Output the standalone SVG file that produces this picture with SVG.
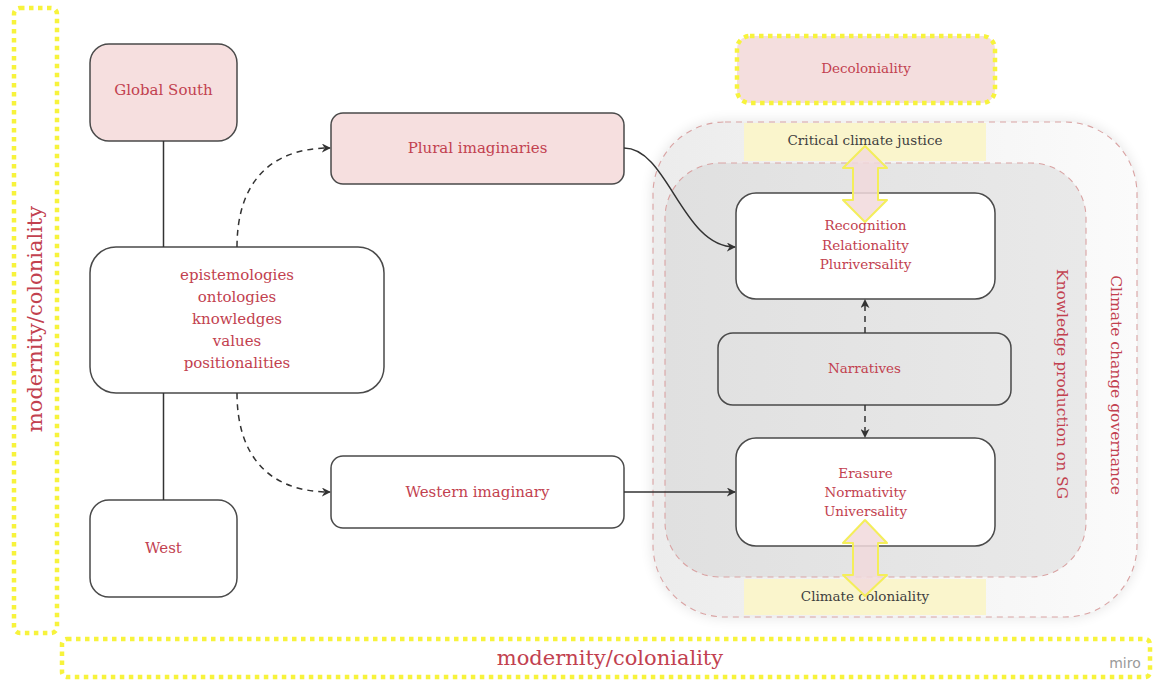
<svg xmlns="http://www.w3.org/2000/svg" width="1156" height="681" viewBox="0 0 1156 681">
<defs>
<style>
.box{stroke:#4a4a4a;stroke-width:1.5;}
.pink{fill:#f6dfdf;}
.white{fill:#ffffff;}
.t{font-family:"DejaVu Serif","Liberation Serif",serif;fill:#c2414f;text-anchor:middle;}
.t15{font-size:15px;}
.t13{font-size:13.5px;}
.dark{fill:#3f3f3f;}
.yd{fill:none;stroke:#f7f33c;stroke-width:4.5;stroke-dasharray:4.5 4.5;}
.reg{stroke:#d9a3a3;stroke-width:1.1;stroke-dasharray:6 5;}
.band{fill:#faf5cc;}
.conn{fill:none;stroke:#333;stroke-width:1.5;}
.dash{stroke-dasharray:6 5;}
.darr{fill:#f1d9dc;fill-opacity:0.85;stroke:#f4ee5a;stroke-width:2;stroke-linejoin:round;}
</style>
<marker id="ah" viewBox="0 0 10 10" refX="9" refY="5" markerWidth="9" markerHeight="9" markerUnits="userSpaceOnUse" orient="auto">
<path d="M0,0 L10,5 L0,10 L3,5 z" fill="#333"/>
</marker>
<linearGradient id="og" x1="0" y1="0" x2="1" y2="0">
<stop offset="0" stop-color="#ececec"/>
<stop offset="1" stop-color="#fbfbfb"/>
</linearGradient>
<linearGradient id="ig" x1="0" y1="0" x2="1" y2="0">
<stop offset="0" stop-color="#e0e0e0"/>
<stop offset="1" stop-color="#e9e9e9"/>
</linearGradient>
<filter id="sh" x="-10%" y="-10%" width="120%" height="120%">
<feGaussianBlur in="SourceAlpha" stdDeviation="7"/>
<feComponentTransfer><feFuncA type="linear" slope="0.12"/></feComponentTransfer>
<feMerge><feMergeNode/><feMergeNode in="SourceGraphic"/></feMerge>
</filter>
</defs>
<rect width="1156" height="681" fill="#ffffff"/>

<g id="frame-left">
<rect class="yd" x="14" y="8" width="43" height="625" rx="6"/>
<text class="t" font-size="21" transform="translate(42,319) rotate(-90)">modernity/coloniality</text>
</g>
<g id="frame-bottom">
<rect class="yd" x="62" y="639" width="1088" height="38" rx="5"/>
<text class="t" font-size="21" x="610" y="665">modernity/coloniality</text>
<text x="1125" y="668" font-family="'DejaVu Sans','Liberation Sans',sans-serif" font-size="14" fill="#9a9a9a" text-anchor="middle">miro</text>
</g>

<g id="climate-change-governance">
<rect x="653" y="122" width="484" height="495" rx="72" fill="url(#og)" filter="url(#sh)"/>
<rect class="reg" x="653" y="122" width="484" height="495" rx="72" fill="none"/>
<text class="t" font-size="15.5" transform="translate(1111,385) rotate(90)">Climate change governance</text>
</g>
<g id="critical-climate-justice">
<rect class="band" x="744" y="123" width="242" height="38"/>
<text class="t t13 dark" x="865" y="144.5">Critical climate justice</text>
</g>
<g id="climate-coloniality">
<rect class="band" x="744" y="579" width="242" height="36"/>
<text class="t t13 dark" x="865" y="601">Climate coloniality</text>
</g>
<g id="knowledge-production">
<rect class="reg" x="665" y="163" width="421" height="414" rx="55" fill="url(#ig)"/>
<text class="t" font-size="15.5" transform="translate(1057,384) rotate(90)">Knowledge production on SG</text>
</g>

<g id="global-south">
<rect class="box pink" x="90" y="44" width="147" height="97" rx="19"/>
<text class="t t15" x="163.5" y="95">Global South</text>
</g>
<g id="epistemologies">
<rect class="box white" x="90" y="247" width="294" height="146" rx="26"/>
<text class="t t15" x="237" y="280">epistemologies</text>
<text class="t t15" x="237" y="302">ontologies</text>
<text class="t t15" x="237" y="324">knowledges</text>
<text class="t t15" x="237" y="346">values</text>
<text class="t t15" x="237" y="368">positionalities</text>
</g>
<g id="west">
<rect class="box white" x="90" y="500" width="147" height="97" rx="19"/>
<text class="t t15" x="163.5" y="553">West</text>
</g>
<g id="plural-imaginaries">
<rect class="box pink" x="331" y="113" width="293" height="71" rx="12"/>
<text class="t t15" x="477.5" y="153">Plural imaginaries</text>
</g>
<g id="western-imaginary">
<rect class="box white" x="331" y="456" width="293" height="72" rx="12"/>
<text class="t t15" x="477.5" y="497">Western imaginary</text>
</g>
<g id="decoloniality">
<rect x="737" y="36" width="258" height="67" rx="13" fill="#f4dede"/>
<rect class="yd" x="737" y="36" width="258" height="67" rx="13"/>
<text class="t t13" x="866" y="73">Decoloniality</text>
</g>
<g id="recognition">
<rect class="box white" x="736" y="193" width="259" height="106" rx="20"/>
<text class="t t13" x="865.5" y="230">Recognition</text>
<text class="t t13" x="865.5" y="249.5">Relationality</text>
<text class="t t13" x="865.5" y="268.5">Pluriversality</text>
</g>
<g id="narratives">
<rect class="box" fill="none" x="718" y="333" width="293" height="72" rx="15"/>
<text class="t t13" x="864.5" y="372.5">Narratives</text>
</g>
<g id="erasure">
<rect class="box white" x="736" y="438" width="259" height="108" rx="20"/>
<text class="t t13" x="865.5" y="477.5">Erasure</text>
<text class="t t13" x="865.5" y="496.5">Normativity</text>
<text class="t t13" x="865.5" y="515.5">Universality</text>
</g>

<g id="connectors">
<line class="conn" x1="163.5" y1="141" x2="163.5" y2="247"/>
<line class="conn" x1="163.5" y1="393" x2="163.5" y2="500"/>
<path class="conn dash" d="M237,247 C237,185 268,148 330,148" marker-end="url(#ah)"/>
<path class="conn dash" d="M237,393 C237,455 268,492 330,492" marker-end="url(#ah)"/>
<path class="conn" d="M624,148 C668,148 682,247 735,247" marker-end="url(#ah)"/>
<line class="conn" x1="624" y1="492" x2="735" y2="492" marker-end="url(#ah)"/>
<line class="conn dash" x1="865" y1="333" x2="865" y2="300" marker-end="url(#ah)"/>
<line class="conn dash" x1="865" y1="405" x2="865" y2="437" marker-end="url(#ah)"/>
<path class="darr" d="M865,146 L887,168 L878,168 L878,200 L887,200 L865,222 L843,200 L853,200 L853,168 L843,168 Z"/>
<path class="darr" d="M865,520 L887,543 L878,543 L878,575 L887,575 L865,596 L843,575 L853,575 L853,543 L843,543 Z"/>
</g>
</svg>
